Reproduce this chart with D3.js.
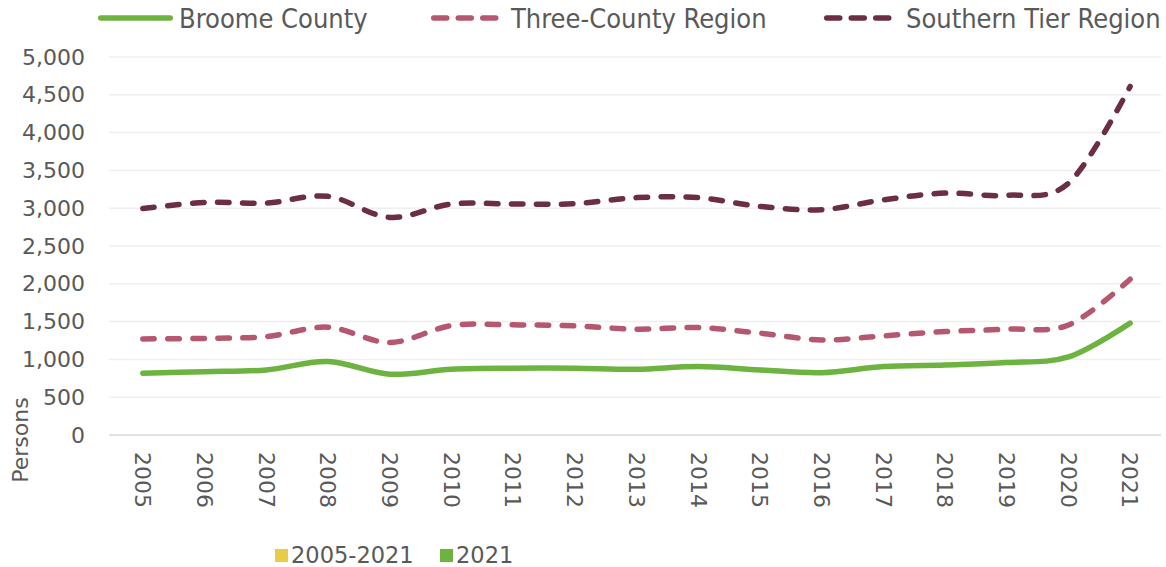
<!DOCTYPE html>
<html><head><meta charset="utf-8">
<script src="https://cdn.jsdelivr.net/npm/d3@7"></script>
<style>
body{margin:0;background:#fff;}
svg{display:block;}
text{font-family:"DejaVu Sans",sans-serif;fill:#595959;}
.leg{font-family:"DejaVu Sans Condensed","DejaVu Sans",sans-serif;font-stretch:condensed;}
</style></head>
<body><svg id="c" width="1166" height="567"></svg>
<script>
const years = ["2005","2006","2007","2008","2009","2010","2011","2012","2013","2014","2015","2016","2017","2018","2019","2020","2021"];
const broome = [817,838,861,971,804,870,883,883,870,905,861,825,905,927,958,1033,1480];
const threeCounty = [1271,1278,1302,1426,1223,1448,1457,1443,1400,1421,1347,1258,1311,1368,1400,1455,2060];
const southernTier = [2995,3077,3068,3157,2878,3055,3055,3060,3140,3140,3024,2980,3110,3200,3170,3330,4610];
const yTicks = [0,500,1000,1500,2000,2500,3000,3500,4000,4500,5000];
const seriesNames = ["Broome County","Three-County Region","Southern Tier Region"];
const seriesColors = ["#6db33f","#b5576f","#6b2e45"];
const bottomLegend = ["2005-2021","2021"];
const bottomColors = ["#e8cc46","#6db33f"];

const svg = d3.select("#c");
const x = d3.scaleBand().domain(years).range([112,1161]);
const y = d3.scaleLinear().domain([0,5000]).range([435,57]);

// gridlines
svg.append("g").selectAll("line").data(yTicks.filter(d=>d>0)).join("line")
  .attr("x1",109).attr("x2",1161).attr("y1",d=>y(d)).attr("y2",d=>y(d))
  .attr("stroke","#efefef").attr("stroke-width",1.5);

// y axis labels
const yAxis = svg.append("g").attr("transform","translate(109,0)")
  .call(d3.axisLeft(y).tickValues(yTicks).tickSize(0).tickPadding(24).tickFormat(d3.format(",")));
yAxis.select(".domain").remove();
yAxis.selectAll("text").attr("font-size",22).attr("fill","#595959").attr("font-family","DejaVu Sans");

// x axis
const xAxis = svg.append("g").attr("transform","translate(0,435)")
  .call(d3.axisBottom(x).tickSize(0).tickPadding(0));
xAxis.select(".domain").attr("stroke","#d9d9d9").attr("stroke-width",1.5).attr("d","M109,0H1161");
xAxis.selectAll("text").attr("font-size",22).attr("fill","#595959").attr("font-family","DejaVu Sans")
  .attr("transform","rotate(90)").attr("text-anchor","start").attr("x",17).attr("y",0).attr("dy","0.35em");

// axis title
svg.append("text").attr("transform","translate(28,440) rotate(-90)").attr("text-anchor","middle")
  .attr("font-size",22).text("Persons");

// lines
const line = d3.line().x((d,i)=>x(years[i])+x.bandwidth()/2).y(d=>y(d)).curve(d3.curveCardinal.tension(0));
const data = [broome,threeCounty,southernTier];
data.forEach((s,i)=>{
  svg.append("path").attr("d",line(s)).attr("fill","none").attr("stroke",seriesColors[i])
    .attr("stroke-width",5.5).attr("stroke-linecap","round").attr("stroke-linejoin","round")
    .attr("stroke-dasharray", i===0 ? null : "11.5,13.5");
});

// top legend
const legLine = [[98,173],[431,500],[824,892]];
const legText = [179,511,906];
const legG = svg.append("g");
seriesNames.forEach((n,i)=>{
  legG.append("line").attr("x1",legLine[i][0]+2.75).attr("x2",legLine[i][1]-2.75).attr("y1",18).attr("y2",18)
    .attr("stroke",seriesColors[i]).attr("stroke-width",5.5).attr("stroke-linecap","round")
    .attr("stroke-dasharray", i===0?null:"13,11.5");
  legG.append("text").attr("class","leg").attr("x",legText[i]).attr("y",28).attr("font-size",27).text(n);
});

// bottom legend
const bX = [275,440];
bottomLegend.forEach((n,i)=>{
  svg.append("rect").attr("x",bX[i]).attr("y",549).attr("width",13).attr("height",13).attr("fill",bottomColors[i]);
  svg.append("text").attr("x",bX[i]+16).attr("y",563).attr("font-size",22.5).text(n);
});
</script></body></html>
